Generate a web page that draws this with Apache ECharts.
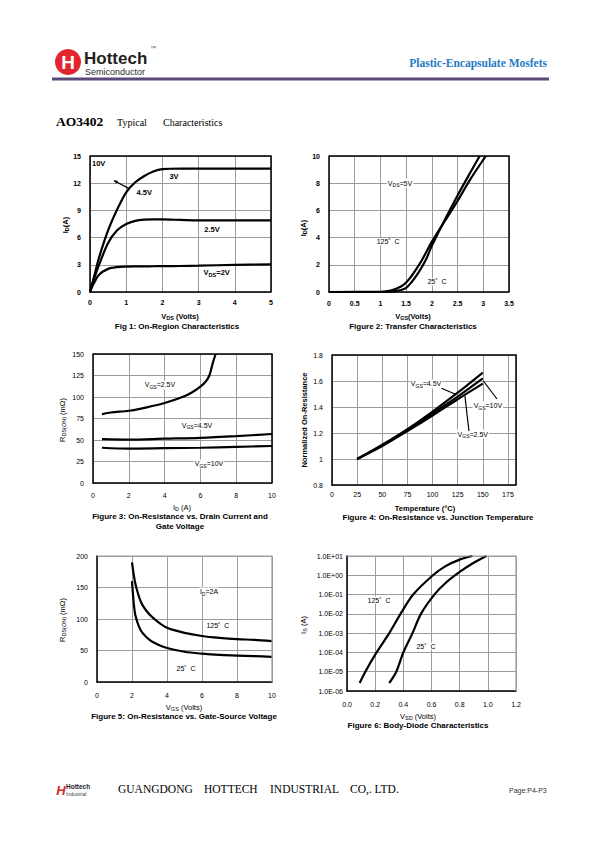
<!DOCTYPE html>
<html><head><meta charset="utf-8">
<script src="https://cdn.jsdelivr.net/npm/echarts@6/dist/echarts.min.js"></script>
<style>html,body{margin:0;padding:0;background:#fff}#c{width:595px;height:842px}</style>
</head><body><div id="c"></div>
<script>
const SANS = "'Liberation Sans', Arial, sans-serif";
const NARROW = "'Liberation Sans Narrow', 'Liberation Sans', Arial, sans-serif";
const SERIF = "'Liberation Serif', 'Times New Roman', serif";

// ---------- Fig 1: On-Region Characteristics ----------
const fig1Vds   = [0, 0.1, 0.25, 0.5, 0.75, 1, 1.25, 1.5, 1.75, 2, 2.5, 3, 4, 5];
const fig1Id10V = [0, 1.5, 3.8, 6.8, 9.1, 11.0, 12.1, 12.8, 13.3, 13.55, 13.62, 13.6, 13.6, 13.6];
const fig1Id25V = [0, 1.3, 3.0, 5.4, 6.8, 7.5, 7.85, 7.98, 8.0, 8.0, 7.95, 7.9, 7.9, 7.9];
const fig1Id2V  = [0, 0.9, 1.9, 2.55, 2.75, 2.8, 2.82, 2.83, 2.84, 2.85, 2.87, 2.9, 3.0, 3.05];
const fig1XRange = [0, 5, 1];
const fig1YRange = [0, 15, 3];

// ---------- Fig 2: Transfer Characteristics ----------
const fig2Vgs25  = [0, 1.0, 1.2, 1.4, 1.5, 1.6, 1.7, 1.8, 1.9, 2.0, 2.25, 2.5, 2.75, 2.93];
const fig2Id25   = [0, 0, 0.02, 0.15, 0.3, 0.7, 1.2, 1.8, 2.5, 3.4, 5.3, 7.1, 8.8, 10];
const fig2Vgs125 = [0, 1.0, 1.2, 1.4, 1.5, 1.6, 1.7, 1.8, 1.9, 2.0, 2.25, 2.5, 2.75, 3.05];
const fig2Id125  = [0, 0.01, 0.1, 0.4, 0.7, 1.15, 1.7, 2.3, 3.0, 3.7, 5.2, 6.7, 8.3, 10];
const fig2XRange = [0, 3.5, 0.5];
const fig2YRange = [0, 10, 2];

// ---------- Fig 3: On-Resistance vs Drain Current ----------
const fig3Id25V  = [0.5, 1, 2, 3, 4, 5, 5.5, 6, 6.3, 6.5, 6.7, 6.85];
const fig3R25V   = [80, 82, 84, 88, 93, 100, 105, 112, 118, 125, 140, 150];
const fig3Id     = [0.5, 2, 4, 6, 8, 10];
const fig3R45V   = [51, 50.5, 51.5, 52.5, 54.5, 57];
const fig3R10V   = [41, 40, 40.5, 41, 42, 43];
const fig3XRange = [0, 10, 2];
const fig3YRange = [0, 150, 25];

// ---------- Fig 4: On-Resistance vs Junction Temperature ----------
const fig4Temp = [25, 50, 75, 100, 125, 150];
const fig4R45V = [1, 1.11, 1.23, 1.365, 1.51, 1.665];
const fig4R10V = [1, 1.105, 1.22, 1.35, 1.48, 1.62];
const fig4R25V = [1, 1.1, 1.215, 1.335, 1.46, 1.58];
const fig4XRange = [0, 183, 25];
const fig4YRange = [0.8, 1.8, 0.2];

// ---------- Fig 5: On-Resistance vs Gate-Source Voltage ----------
const fig5Vgs   = [2, 2.1, 2.2, 2.4, 2.6, 3, 3.5, 4, 5, 6, 7, 8, 9, 10];
const fig5R125  = [190, 170, 155, 135, 122, 107, 95, 86, 78, 73, 70, 68, 67, 65];
const fig5R25   = [160, 125, 105, 88, 78, 67, 59, 54, 48, 45, 43, 42, 41, 40];
const fig5XRange = [0, 10, 2];
const fig5YRange = [0, 200, 50];

// ---------- Fig 6: Body-Diode Characteristics ----------
const fig6Vsd125 = [0.09, 0.13, 0.21, 0.30, 0.38, 0.47, 0.61, 0.7, 0.8, 0.89];
const fig6Is125  = [2.6e-6, 1e-5, 1e-4, 1e-3, 1e-2, 1e-1, 1, 3, 6.5, 10];
const fig6Vsd25  = [0.30, 0.35, 0.40, 0.465, 0.525, 0.62, 0.7, 0.8, 0.9, 0.99];
const fig6Is25   = [2.6e-6, 1e-5, 1e-4, 1e-3, 1e-2, 1e-1, 0.4, 1.5, 4.5, 10];
const fig6XRange = [0, 1.2, 0.2];
const fig6YTickLabels = ['1.0E-06','1.0E-05','1.0E-04','1.0E-03','1.0E-02','1.0E-01','1.0E+00','1.0E+01'];

const grids = [
  {left: 90,  top: 156, width: 181, height: 136},
  {left: 329, top: 156, width: 180, height: 136},
  {left: 93,  top: 354, width: 179, height: 129},
  {left: 332, top: 355, width: 184, height: 130},
  {left: 97,  top: 556, width: 175, height: 126},
  {left: 347, top: 556, width: 169, height: 135}
];

function baseAxis(gi, r, bold, margin) {
  return {
    gridIndex: gi, type: 'value', min: r[0], max: r[1], interval: r[2],
    axisLine: {show: true, onZero: false, lineStyle: {color: '#000', width: 1.5}},
    axisTick: {show: false},
    splitLine: {show: true, lineStyle: {color: '#9c9c9c', width: 1}},
    axisLabel: {color: '#000', fontSize: 7, fontFamily: SANS, fontWeight: bold ? 'bold' : 'normal', margin: margin}
  };
}
const xAxes = [
  baseAxis(0, fig1XRange, true, 7),
  baseAxis(1, fig2XRange, true, 8),
  baseAxis(2, fig3XRange, false, 9),
  baseAxis(3, fig4XRange, false, 6),
  baseAxis(4, fig5XRange, false, 10),
  baseAxis(5, fig6XRange, false, 10)
];
xAxes[3].axisLabel.showMaxLabel = false;
xAxes[5].axisLabel.formatter = v => v.toFixed(1);
const yAxes = [
  baseAxis(0, fig1YRange, true, 9),
  baseAxis(1, fig2YRange, true, 9),
  baseAxis(2, fig3YRange, false, 9),
  baseAxis(3, fig4YRange, false, 9),
  baseAxis(4, fig5YRange, false, 9),
  {
    gridIndex: 5, type: 'log', logBase: 10, min: 1e-6, max: 10, splitNumber: 7,
    axisLine: {show: true, onZero: false, lineStyle: {color: '#000', width: 1.5}},
    axisTick: {show: false},
    splitLine: {show: true, lineStyle: {color: '#9c9c9c', width: 1}},
    axisLabel: {color: '#000', fontSize: 7, fontFamily: SANS, margin: 4,
      formatter: v => fig6YTickLabels[Math.round(Math.log10(v)) + 6]}
  }
];

function pts(xs, ys) { return xs.map((x, i) => [x, ys[i]]); }
function curve(gi, xs, ys) {
  return {type: 'line', xAxisIndex: gi, yAxisIndex: gi, data: pts(xs, ys),
    showSymbol: false, symbol: 'none', smooth: 0.3, silent: true,
    lineStyle: {color: '#000', width: 2.2}, z: 3};
}
const series = [
  curve(0, fig1Vds, fig1Id10V), curve(0, fig1Vds, fig1Id25V), curve(0, fig1Vds, fig1Id2V),
  curve(1, fig2Vgs25, fig2Id25), curve(1, fig2Vgs125, fig2Id125),
  curve(2, fig3Id25V, fig3R25V), curve(2, fig3Id, fig3R45V), curve(2, fig3Id, fig3R10V),
  curve(3, fig4Temp, fig4R45V), curve(3, fig4Temp, fig4R10V), curve(3, fig4Temp, fig4R25V),
  curve(4, fig5Vgs, fig5R125), curve(4, fig5Vgs, fig5R25),
  curve(5, fig6Vsd125, fig6Is125), curve(5, fig6Vsd25, fig6Is25)
];

const chart = echarts.init(document.getElementById('c'), null, {renderer: 'svg', width: 595, height: 842});
chart.setOption({animation: false, backgroundColor: '#fff', grid: grids, xAxis: xAxes, yAxis: yAxes, series: series});

const RICH = {
  n:  {fontSize: 7, fontFamily: SANS, fill: '#000'},
  s:  {fontSize: 5, fontFamily: SANS, fill: '#000', padding: [4, 0, 0, 0]},
  b:  {fontSize: 7.5, fontFamily: SANS, fontWeight: 'bold', fill: '#000'},
  bs: {fontSize: 5.5, fontFamily: SANS, fontWeight: 'bold', fill: '#000', padding: [4, 0, 0, 0]},
  t:  {fontSize: 7.5, fontFamily: SANS, fill: '#000'},
  ts: {fontSize: 5.5, fontFamily: SANS, fill: '#000', padding: [4, 0, 0, 0]}
};

// annotations in data coordinates: [grid, x, y, text]
const notes = [
  [0, 0.24, 14.2, '{b|10V}'],
  [0, 2.32, 12.7, '{b|3V}'],
  [0, 1.5, 11.0, '{b|4.5V}'],
  [0, 3.37, 6.84, '{b|2.5V}'],
  [0, 3.5, 2.1, '{b|V}{bs|DS}{b|=2V}'],
  [1, 1.38, 8.0, '{n|V}{s|DS}{n|=5V}'],
  [1, 1.15, 3.68, '{n|125˚  C}'],
  [1, 2.1, 0.74, '{n|25˚  C}'],
  [2, 3.74, 114, '{n|V}{s|GS}{n|=2.5V}'],
  [2, 5.81, 67.4, '{n|V}{s|GS}{n|=4.5V}'],
  [2, 6.48, 22.1, '{n|V}{s|GS}{n|=10V}'],
  [3, 93.5, 1.577, '{n|V}{s|GS}{n|=4.5V}'],
  [3, 155, 1.408, '{n|V}{s|GS}{n|=10V}'],
  [3, 140, 1.192, '{n|V}{s|GS}{n|=2.5V}'],
  [4, 6.4, 142.9, '{n|I}{s|D}{n|=2A}'],
  [4, 6.91, 88.9, '{n|125˚  C}'],
  [4, 5.09, 22.2, '{n|25˚  C}'],
  [5, 0.227, 0.052, '{n|125˚  C}'],
  [5, 0.561, 2.1e-4, '{n|25˚  C}']
];
// arrows in data coordinates: [grid, x1, y1, x2(head), y2(head), head size]
const arrows = [
  [0, 1.08, 11.4, 0.66, 12.3, 4],
  [3, 108.9, 1.544, 122.3, 1.5, 0],
  [3, 136.2, 1.215, 132.2, 1.485, 0],
  [3, 164.1, 1.4615, 150.6, 1.6, 0]
];
const ranges = [
  [fig1XRange, fig1YRange], [fig2XRange, fig2YRange], [fig3XRange, fig3YRange],
  [fig4XRange, fig4YRange], [fig5XRange, fig5YRange], [fig6XRange, [1e-6, 10]]
];
const borderColors = ['#000', '#000', '#000', '#000', '#9c9c9c', '#9c9c9c'];

const g = [];
function txt(x, y, text, o) {
  o = o || {};
  g.push({type: 'text', x: x, y: y, rotation: o.rot || 0, z: 20,
    style: Object.assign({text: text, rich: RICH, align: o.align || 'center', verticalAlign: 'middle',
      fontSize: o.size || 7, fontFamily: o.font || SANS, fontWeight: o.weight || 'normal', fill: o.fill || '#000'}, o.extra || {})});
}
// plot borders (top + right)
ranges.forEach((r, gi) => {
  const p0 = chart.convertToPixel({gridIndex: gi}, [r[0][0], r[1][0]]);
  const p1 = chart.convertToPixel({gridIndex: gi}, [r[0][1], r[1][1]]);
  g.push({type: 'polyline', z: 5, shape: {points: [[p0[0], p1[1]], [p1[0], p1[1]], [p1[0], p0[1]]]},
    style: {stroke: borderColors[gi], lineWidth: gi < 4 ? 1.5 : 1.2, fill: null}});
});
notes.forEach(n => {
  const p = chart.convertToPixel({gridIndex: n[0]}, [n[1], n[2]]);
  txt(p[0], p[1], n[3], {extra: {backgroundColor: '#fff', padding: [0, 1]}});
});
arrows.forEach(a => {
  const p = chart.convertToPixel({gridIndex: a[0]}, [a[1], a[2]]);
  const q = chart.convertToPixel({gridIndex: a[0]}, [a[3], a[4]]);
  g.push({type: 'line', z: 21, shape: {x1: p[0], y1: p[1], x2: q[0], y2: q[1]}, style: {stroke: '#000', lineWidth: 1.2}});
  if (a[5]) {
    const ang = Math.atan2(q[1] - p[1], q[0] - p[0]), s = a[5];
    const b1 = [q[0] - s * Math.cos(ang - 0.45), q[1] - s * Math.sin(ang - 0.45)];
    const b2 = [q[0] - s * Math.cos(ang + 0.45), q[1] - s * Math.sin(ang + 0.45)];
    g.push({type: 'polygon', z: 21, shape: {points: [q, b1, b2]}, style: {fill: '#000'}});
  }
});

// axis titles & captions
const R90 = Math.PI / 2;
txt(180, 316, '{b|V}{bs|DS}{b| (Volts)}');
txt(65, 225, '{b|I}{bs|D}{b|(A)}', {rot: R90});
txt(177, 326, 'Fig 1: On-Region Characteristics', {weight: 'bold', size: 8, font: NARROW});
txt(413, 316, '{b|V}{bs|GS}{b|(Volts)}');
txt(303, 228, '{b|I}{bs|D}{b|(A)}', {rot: R90});
txt(413, 326, 'Figure 2: Transfer Characteristics', {weight: 'bold', size: 8, font: NARROW});
txt(182, 507, '{t|I}{ts|D}{t| (A)}');
txt(62, 420, '{t|R}{ts|DS(ON)}{t| (mΩ)}', {rot: R90});
txt(180, 516, 'Figure 3: On-Resistance vs. Drain Current and', {weight: 'bold', size: 8, font: NARROW});
txt(180, 526, 'Gate Voltage', {weight: 'bold', size: 8, font: NARROW});
txt(425, 508, 'Temperature (°C)', {weight: 'bold', size: 7.5});
txt(304, 420, 'Normalized On-Resistance', {weight: 'bold', size: 7.5, rot: R90});
txt(438, 517, 'Figure 4: On-Resistance vs. Junction Temperature', {weight: 'bold', size: 8, font: NARROW});
txt(184, 707, '{t|V}{ts|GS}{t| (Volts)}');
txt(62, 620, '{t|R}{ts|DS(ON)}{t| (mΩ)}', {rot: R90});
txt(184, 716, 'Figure 5: On-Resistance vs. Gate-Source Voltage', {weight: 'bold', size: 8, font: NARROW});
txt(418, 716, '{t|V}{ts|SD}{t| (Volts)}');
txt(303, 625, '{t|I}{ts|S}{t| (A)}', {rot: R90});
txt(418, 725, 'Figure 6: Body-Diode Characteristics', {weight: 'bold', size: 8, font: NARROW});

// header
g.push({type: 'circle', z: 20, shape: {cx: 68, cy: 62, r: 13}, style: {fill: '#e3262d'}});
txt(68, 62.5, 'H', {size: 19, weight: 'bold', fill: '#fff'});
txt(84, 58, 'Hottech', {align: 'left', size: 17, weight: 'bold', fill: '#231f20'});
txt(150, 48, '™', {align: 'left', size: 6, fill: '#555'});
txt(85, 72.2, 'Semiconductor', {align: 'left', size: 9, fill: '#2b2b2b'});
txt(547, 63, 'Plastic-Encapsulate Mosfets', {align: 'right', size: 11.5, weight: 'bold', font: SERIF, fill: '#1e7cc4'});
g.push({type: 'line', z: 20, shape: {x1: 52, y1: 79, x2: 549, y2: 79}, style: {stroke: '#5b4b7d', lineWidth: 3}});
txt(56, 121, 'AO3402', {align: 'left', size: 13.5, weight: 'bold', font: SERIF});
txt(117, 122, 'Typical', {align: 'left', size: 10, font: SERIF});
txt(163, 122, 'Characteristics', {align: 'left', size: 10, font: SERIF});

// footer
txt(61, 790, 'H', {size: 13, weight: 'bold', fill: '#d9262b', extra: {fontStyle: 'italic'}});
txt(66, 786, 'Hottech', {align: 'left', size: 6.5, weight: 'bold', fill: '#222'});
txt(66, 794, 'Industrial', {align: 'left', size: 5, fill: '#444'});
txt(118, 789, 'GUANGDONG', {align: 'left', size: 11.5, font: SERIF});
txt(204, 789, 'HOTTECH', {align: 'left', size: 11.5, font: SERIF});
txt(270, 789, 'INDUSTRIAL', {align: 'left', size: 11.5, font: SERIF});
txt(350, 789, 'CO,. LTD.', {align: 'left', size: 11.5, font: SERIF});
txt(509, 790, 'Page:P4-P3', {align: 'left', size: 7, fill: '#333'});

chart.setOption({graphic: {elements: g}});
</script></body></html>
